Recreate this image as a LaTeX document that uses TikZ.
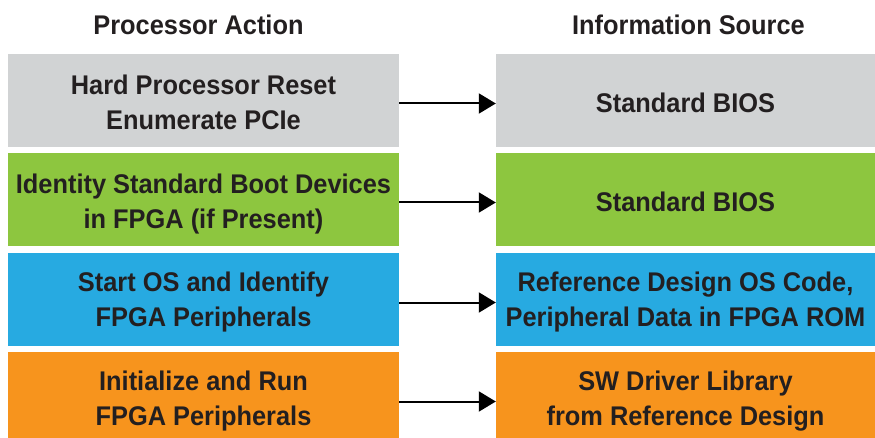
\documentclass[tikz,border=0pt]{standalone}
\usepackage{fontspec}
\setmainfont{Liberation Sans}[FakeStretch=0.94]
\usetikzlibrary{arrows.meta}

\definecolor{boxgray}{HTML}{D1D3D4}
\definecolor{boxgreen}{HTML}{8DC63F}
\definecolor{boxblue}{HTML}{27AAE1}
\definecolor{boxorange}{HTML}{F7941D}
\definecolor{textdark}{HTML}{231F20}

% fixed first-line height and last-line depth inside a box
\newcommand{\linetop}[1]{\rule{0pt}{#1pt}}
\newcommand{\linebot}{\rule[-6pt]{0pt}{0pt}}

\tikzset{
	stagebox/.style={fill=#1, inner sep=0pt, minimum height=93pt, align=center,
		text=textdark, font=\fontsize{27}{35}\selectfont\bfseries},
	actionbox/.style={stagebox=#1, minimum width=391pt},
	sourcebox/.style={stagebox=#1, minimum width=379pt},
	heading/.style={text=textdark, font=\fontsize{27}{30}\selectfont\bfseries},
	flow/.style={line width=2pt, -{Triangle[length=17pt,width=20pt]}}
}

\begin{document}
\begin{tikzpicture}[x=1pt,y=-1pt]
		% frame of the picture
		\useasboundingbox (0,0) rectangle (875,438);
		\clip (0,0) rectangle (875,438);

		% column headings
		\node[heading] (hact) at (198.5,25) {Processor Action};
		\node[heading] (hsrc) at (688.5,25) {Information Source};

		% one row per step: action on the left, source on the right
		\foreach \i/\y/\h/\col/\act/\src in {
			1/100.5/30/boxgray/{Hard Processor Reset\\Enumerate PCIe}/{Standard BIOS},
			2/199.5/30/boxgreen/{Identity Standard Boot Devices\\in FPGA (if Present)}/{Standard BIOS},
			3/299.5/25/boxblue/{Start OS and Identify\\FPGA Peripherals}/{Reference Design OS Code,\\Peripheral Data in FPGA ROM},
			4/398.5/25/boxorange/{Initialize and Run\\FPGA Peripherals}/{SW Driver Library\\from Reference Design}}
		{
			\node[actionbox=\col] (act\i) at (203.5,\y) {\linetop{\h}\act\linebot};
			\node[sourcebox=\col] (src\i) at (685.5,\y) {\linetop{\h}\src\linebot};
			% arrow from action to its source
			\draw[flow] ([yshift=-3pt]act\i.east) -- ([yshift=-3pt]src\i.west);
		}
	\end{tikzpicture}
\end{document}
